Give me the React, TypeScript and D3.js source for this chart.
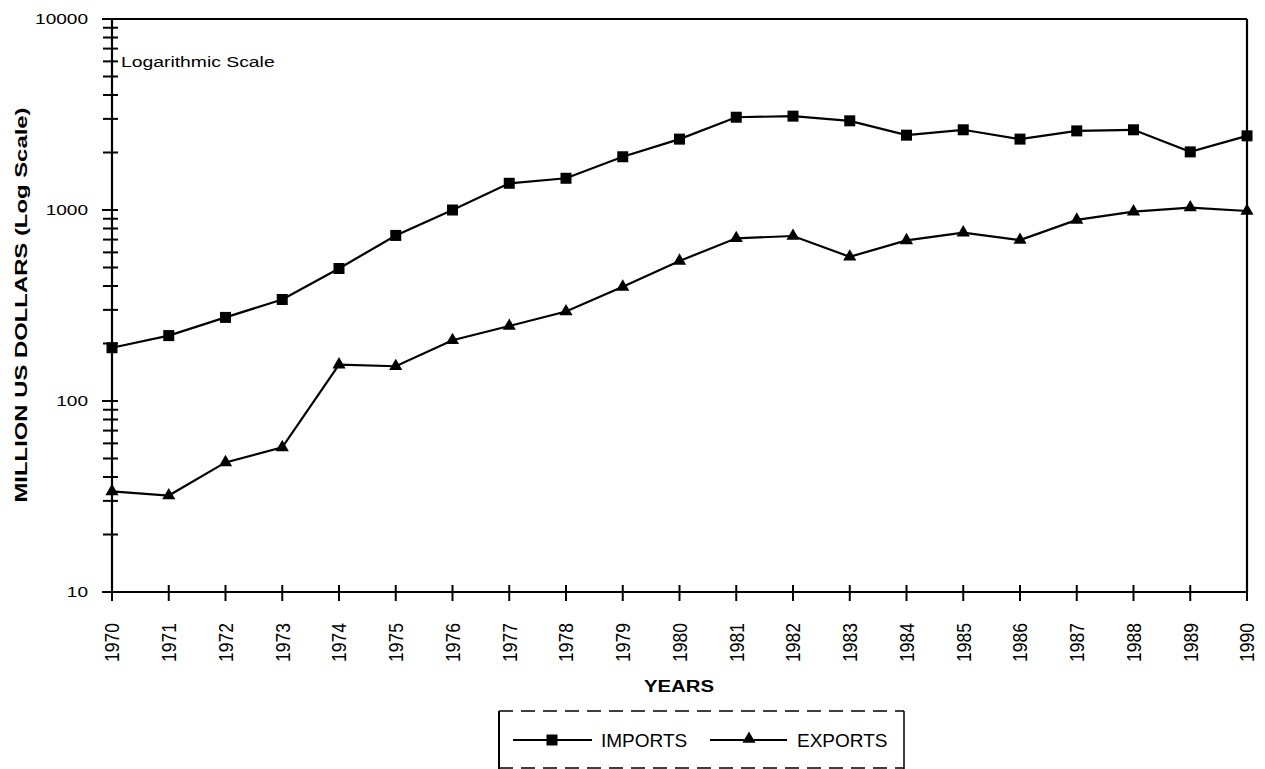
import React from "react";
import * as d3 from "d3";

const years = [1970,1971,1972,1973,1974,1975,1976,1977,1978,1979,1980,1981,1982,1983,1984,1985,1986,1987,1988,1989,1990];
const imports = [190,220,274,340,494,736,1000,1380,1466,1900,2350,3060,3100,2930,2465,2630,2350,2595,2630,2015,2445];
const exports = [33.6,32,47.7,57.2,155,152,208,247,294,396,541,711,731,569,693,761,696,887,980,1030,988];
const yTickLabels = [10,100,1000,10000];

const W = 1265, H = 769;
const left = 112, right = 1247, top = 19, bottom = 592;
const font = "Liberation Sans, Arial, sans-serif";

export default function App() {
  const x = d3.scaleLinear().domain([1970,1990]).range([left,right]);
  const y = d3.scaleLog().domain([10,10000]).range([bottom,top]);
  const line = d3.line<[number,number]>().x(d=>x(d[0])).y(d=>y(d[1]));
  const impPts = years.map((yr,i)=>[yr,imports[i]] as [number,number]);
  const expPts = years.map((yr,i)=>[yr,exports[i]] as [number,number]);
  const minor: number[] = [];
  for (let dec=10; dec<10000; dec*=10) for (let k=2;k<=9;k++) minor.push(dec*k);
  const tri = d3.symbol().type(d3.symbolTriangle).size(75)();
  return (
    <svg width={W} height={H} style={{position:"absolute",left:0,top:0,background:"#fff"}} fontFamily={font}>
      <rect x={0} y={0} width={W} height={H} fill="#fff"/>
      {/* frame */}
      <line x1={left} x2={right} y1={top} y2={top} stroke="#000" strokeWidth={2}/>
      <line x1={left} x2={right} y1={bottom} y2={bottom} stroke="#000" strokeWidth={2}/>
      <line x1={left} x2={left} y1={top} y2={bottom} stroke="#000" strokeWidth={2.2}/>
      <line x1={right} x2={right} y1={top} y2={bottom} stroke="#000" strokeWidth={2.2}/>
      {/* y ticks */}
      {yTickLabels.map(v=>(
        <g key={v}>
          <line x1={left-10} x2={left+6} y1={y(v)} y2={y(v)} stroke="#000" strokeWidth={2}/>
          <g transform={`translate(88,${y(v)}) scale(1.27,1)`}>
            <text dy="0.35em" textAnchor="end" fontSize={15}>{v}</text>
          </g>
        </g>
      ))}
      {minor.map(v=>(
        <line key={v} x1={left-9} x2={left+6} y1={y(v)} y2={y(v)} stroke="#000" strokeWidth={2}/>
      ))}
      {/* x ticks */}
      {years.map(yr=>(
        <g key={yr}>
          <line x1={x(yr)} x2={x(yr)} y1={bottom-7} y2={bottom+9} stroke="#000" strokeWidth={2}/>
          <g transform={`translate(${x(yr)},623) scale(1.2,1) rotate(-90)`}>
            <text dy="0.35em" textAnchor="end" fontSize={17.5}>{yr}</text>
          </g>
        </g>
      ))}
      <g transform="translate(121,62) scale(1.29,1)">
        <text dy="0.35em" fontSize={15}>Logarithmic Scale</text>
      </g>
      <g transform={`translate(21,305) rotate(-90)`}>
        <text dy="0.35em" textAnchor="middle" fontSize={17} fontWeight="bold" textLength={395} lengthAdjust="spacingAndGlyphs">MILLION US DOLLARS (Log  Scale)</text>
      </g>
      <g transform="translate(679,686) scale(1.2,1)">
        <text dy="0.35em" textAnchor="middle" fontSize={17} fontWeight="bold">YEARS</text>
      </g>
      {/* lines */}
      <path d={line(impPts) ?? ""} fill="none" stroke="#000" strokeWidth={2.2}/>
      <path d={line(expPts) ?? ""} fill="none" stroke="#000" strokeWidth={2.2}/>
      {impPts.map(p=>(
        <rect key={p[0]} x={x(p[0])-5.5} y={y(p[1])-5.5} width={11} height={11} fill="#000"/>
      ))}
      {expPts.map(p=>(
        <path key={p[0]} d={tri ?? ""} transform={`translate(${x(p[0])},${y(p[1])})`} fill="#000"/>
      ))}
      {/* legend */}
      <line x1={499} x2={904} y1={711} y2={711} stroke="#000" strokeWidth={1.5} strokeDasharray="14,8"/>
      <line x1={499} x2={904} y1={768} y2={768} stroke="#000" strokeWidth={1.5} strokeDasharray="14,8"/>
      <line x1={499} x2={499} y1={711} y2={769} stroke="#000" strokeWidth={2}/>
      <line x1={904} x2={904} y1={711} y2={769} stroke="#000" strokeWidth={1.5}/>
      <line x1={513} x2={592} y1={740} y2={740} stroke="#000" strokeWidth={2}/>
      <rect x={546.5} y={734.5} width={11} height={11} fill="#000"/>
      <text x={601} y={740} dy="0.36em" fontSize={19}>IMPORTS</text>
      <line x1={710} x2={787} y1={740} y2={740} stroke="#000" strokeWidth={2}/>
      <path d={tri ?? ""} transform={`translate(749,739)`} fill="#000"/>
      <text x={797} y={740} dy="0.36em" fontSize={19}>EXPORTS</text>
    </svg>
  );
}
